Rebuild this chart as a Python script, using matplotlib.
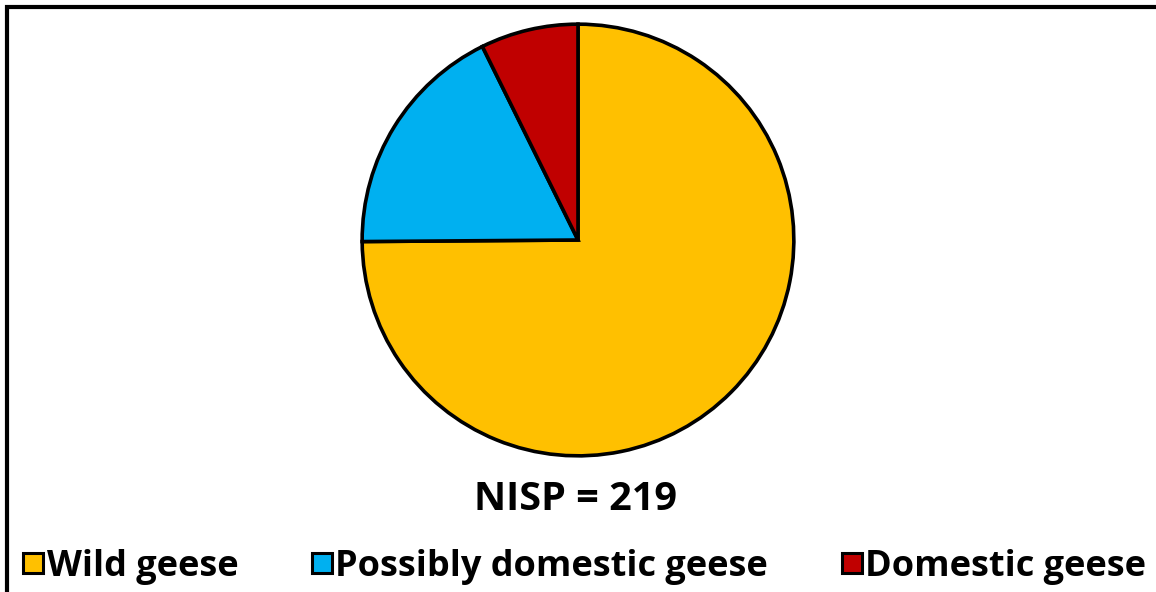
import matplotlib.pyplot as plt
from matplotlib.patches import Rectangle
from matplotlib.lines import Line2D

# Дані
categories = ["Wild geese", "Possibly domestic geese", "Domestic geese"]
counts = [164, 39, 16]
colors = ["#FFC000", "#00B0F0", "#C00000"]
nisp = 219

plt.rcParams['font.family'] = ['Open Sans', 'DejaVu Sans']

fig = plt.figure(figsize=(11.56, 5.92), dpi=100)

# Рамка (видно лише лівий та верхній край)
fig.patches.append(Rectangle((6.5 / 1156, -0.1), 1.2, 1.1 - 7 / 592,
                             transform=fig.transFigure, fill=False,
                             edgecolor="black", linewidth=3))

ax = fig.add_axes([360 / 1156, 134 / 592, 436 / 1156, 436 / 592])
ax.pie(counts, colors=colors, startangle=90, counterclock=False,
       wedgeprops=dict(edgecolor="black", linewidth=2.6))
ax.set_xlim(-1.01, 1.01)
ax.set_ylim(-1.01, 1.01)
ax.set_aspect("equal")
ax.axis("off")

fig.text(576 / 1156, 1 - 499 / 592, f"NISP = {nisp}", ha="center", va="center",
         fontsize=28.5, fontweight="bold")

handles = [Line2D([], [], marker="s", linestyle="none", markersize=14,
                  markerfacecolor=c, markeredgecolor="black", markeredgewidth=2.2)
           for c in colors]
fig.legend(handles, categories, loc="center", bbox_to_anchor=(584 / 1156, 1 - 567 / 592),
           ncol=3, frameon=False, prop=dict(size=26, weight="bold"),
           handlelength=0.65, handletextpad=0.04, columnspacing=2.0,
           borderpad=0, borderaxespad=0)

fig.savefig("out.png", dpi=100)
